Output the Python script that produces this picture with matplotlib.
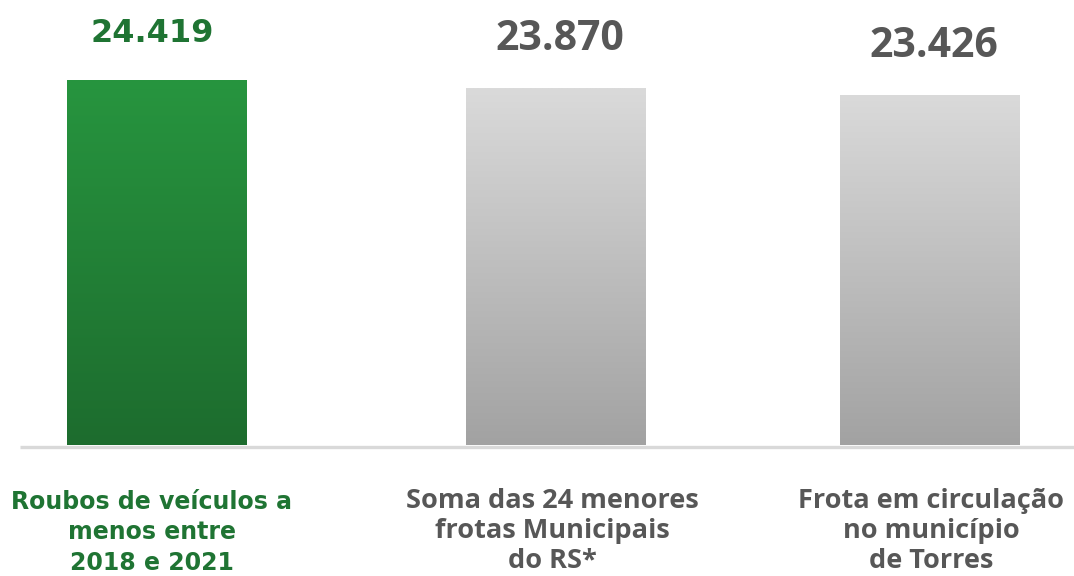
import numpy as np
import matplotlib
matplotlib.use("Agg")
import matplotlib.pyplot as plt
from matplotlib.colors import LinearSegmentedColormap

categories = ["Roubos de veículos a\nmenos entre\n2018 e 2021",
              "Soma das 24 menores\nfrotas Municipais\ndo RS*",
              "Frota em circulação\nno município\nde Torres"]
values = [24419, 23870, 23426]
value_labels = ["24.419", "23.870", "23.426"]

# layout
W, H = 1074, 576
positions = [0.0, 1.0, 1.937]
bar_w = 0.449
px_per_unit_x = 399.0
x0_px = 156.5
base_px = 445.0            # baseline in pixels from top
px_per_val = 365.0 / 24419

fig = plt.figure(figsize=(W / 100, H / 100), dpi=100)
ax = fig.add_axes([0, 0, 1, 1])
ax.axis("off")

green_cmap = LinearSegmentedColormap.from_list("g", ["#1d6c2e", "#27953f"])
grey_cmap = LinearSegmentedColormap.from_list("k", ["#a2a2a2", "#dadada"])
label_colors = ["#1f7433", "#575757", "#575757"]
fonts = ["DejaVu Sans", "Open Sans", "Open Sans"]
value_sizes = [23, 29.5, 29.5]
cat_sizes = [17, 19.5, 19.5]
cat_spacing = [1.34, 1.2, 1.2]
cat_top = [-45, -43, -43]
label_dx = [-4, 4, 4]
cat_dx = [-5, -3, 2]

grad = np.linspace(0, 1, 256).reshape(-1, 1)
bars = ax.bar(positions, values, width=bar_w, color="none", zorder=2)
for i, b in enumerate(bars):
    cmap = green_cmap if i == 0 else grey_cmap
    x, y = b.get_x(), b.get_y()
    w, h = b.get_width(), b.get_height()
    im = ax.imshow(grad, cmap=cmap, origin="lower", aspect="auto",
                   extent=[x, x + w, y, y + h], zorder=2)
    im.set_clip_path(b)

ax.set_xlim(-x0_px / px_per_unit_x, (W - x0_px) / px_per_unit_x)
ax.set_ylim(-(H - base_px) / px_per_val, base_px / px_per_val)

# baseline
xl = ax.get_xlim()
ax.plot([(20 - x0_px) / px_per_unit_x, xl[1]], [-2 / px_per_val] * 2,
        color="#d9d9d9", lw=2.4, zorder=1, solid_capstyle="butt")

for i, (p, v) in enumerate(zip(positions, values)):
    ax.annotate(value_labels[i], (p, v), xytext=(label_dx[i] * 0.75, 27.5),
                textcoords="offset points",
                ha="center", va="baseline", fontsize=value_sizes[i], fontweight="bold",
                color=label_colors[i], family=fonts[i])
    ax.text(p + cat_dx[i] / px_per_unit_x, cat_top[i] / px_per_val, categories[i],
            ha="center", va="top",
            fontsize=cat_sizes[i], fontweight="bold", color=label_colors[i],
            family=fonts[i], linespacing=cat_spacing[i])

fig.savefig("out.png", dpi=100, facecolor="white")
